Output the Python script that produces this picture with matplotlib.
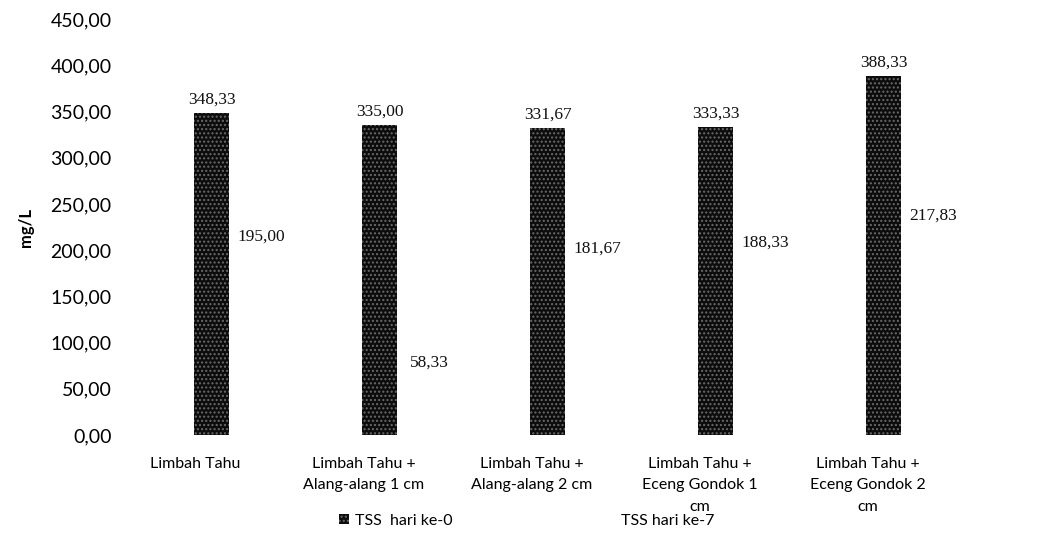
import numpy as np
import matplotlib
matplotlib.use("Agg")
import matplotlib.pyplot as plt

categories = ["Limbah Tahu",
              "Limbah Tahu +\nAlang-alang 1 cm",
              "Limbah Tahu +\nAlang-alang 2 cm",
              "Limbah Tahu +\nEceng Gondok 1\ncm",
              "Limbah Tahu +\nEceng Gondok 2\ncm"]
tss_day0 = [348.33, 335.00, 331.67, 333.33, 388.33]
tss_day7 = [195.00, 58.33, 181.67, 188.33, 217.83]
series_names = ["TSS  hari ke-0", "TSS hari ke-7"]
yticks = np.arange(0, 451, 50)

fmt = lambda v: f"{v:.2f}".replace(".", ",")

fig = plt.figure(figsize=(10.47, 5.53), dpi=100)
ax = fig.add_axes([145 / 1047, 1 - 435 / 553, 840 / 1047, 416 / 553])

x = np.arange(len(categories))
w = 0.208
b0 = ax.bar(x - w / 2, tss_day0, w, color="#0c0c0c", edgecolor="#6a6a6a",
            hatch="....", linewidth=0, label=series_names[0])
b1 = ax.bar(x + w / 2, tss_day7, w, color="white", edgecolor="white",
            linewidth=0, label=series_names[1])

for xi, v in zip(x - w / 2, tss_day0):
    ax.text(xi, v + 6, fmt(v), ha="center", va="bottom", fontsize=12.5,
            family="Liberation Serif", color="#111")
for xi, v in zip(x + w / 2, tss_day7):
    ax.text(xi + 0.09, v + 11, fmt(v), ha="center", va="bottom", fontsize=12.5,
            family="Liberation Serif", color="#111")

ax.set_xlim(-0.5, len(categories) - 0.5)
ax.set_ylim(0, 450)
ax.set_yticks(yticks)
ax.set_yticklabels([fmt(t) for t in yticks], family="Lato", fontsize=14)
# category labels sit slightly left of the group centre
ax.set_xticks(x - 0.2)
ax.set_xticklabels(categories, family="Lato", fontsize=11.5, linespacing=1.65, va="top")
ax.tick_params(length=0)
ax.tick_params(axis="y", pad=24)
ax.tick_params(axis="x", pad=16)
for s in ax.spines.values():
    s.set_visible(False)
ax.set_ylabel("mg/L", family="Lato", fontsize=12, fontweight="bold", labelpad=12)

fig.legend(handles=[b0, b1], labels=series_names, loc="center", ncol=2,
           bbox_to_anchor=(0.503, 1 - 521 / 553), frameon=False, columnspacing=9.5,
           handlelength=0.6, handleheight=0.6, handletextpad=0.4,
           prop=dict(family="Lato", size=11.5))

fig.savefig("out.png", dpi=100)
